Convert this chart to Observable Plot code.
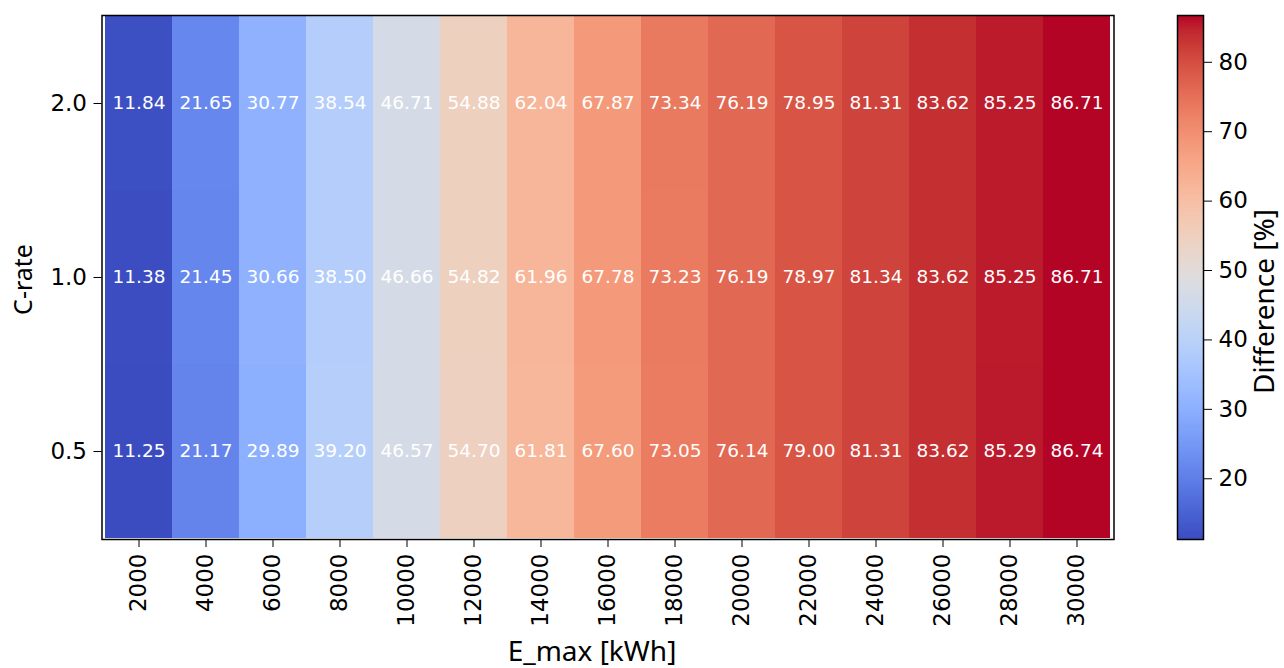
<!DOCTYPE html>
<html>
<head>
<meta charset="utf-8">
<script src="https://cdn.jsdelivr.net/npm/d3@7"></script>
<script src="https://cdn.jsdelivr.net/npm/@observablehq/plot@0.6"></script>
<style>
  html, body { margin: 0; padding: 0; background: #fff; }
  #wrap { position: relative; width: 1284px; height: 668px; overflow: hidden; }
  #cb { position: absolute; left: 1150px; top: 0; }
  #main { position: absolute; left: 0; top: 0; }
</style>
</head>
<body>
<div id="wrap"><div id="main"></div><div id="cb"></div></div>
<script>
// ---- data ----
const emax = [2000, 4000, 6000, 8000, 10000, 12000, 14000, 16000, 18000, 20000, 22000, 24000, 26000, 28000, 30000];
const cRates = ["2.0", "1.0", "0.5"];
const diff_c20 = [11.84, 21.65, 30.77, 38.54, 46.71, 54.88, 62.04, 67.87, 73.34, 76.19, 78.95, 81.31, 83.62, 85.25, 86.71];
const diff_c10 = [11.38, 21.45, 30.66, 38.50, 46.66, 54.82, 61.96, 67.78, 73.23, 76.19, 78.97, 81.34, 83.62, 85.25, 86.71];
const diff_c05 = [11.25, 21.17, 29.89, 39.20, 46.57, 54.70, 61.81, 67.60, 73.05, 76.14, 79.00, 81.31, 83.62, 85.29, 86.74];
const colorbarTicks = [20, 30, 40, 50, 60, 70, 80];
const xLabel = "E_max [kWh]";
const yLabel = "C-rate";
const cbLabel = "Difference [%]";

// ---- build table ----
const rows = [diff_c20, diff_c10, diff_c05];
const table = cRates.flatMap((c, i) => rows[i].map((v, j) => ({emax: emax[j], c, v})));
const vmin = d3.min(table, d => d.v);
const vmax = d3.max(table, d => d.v);

// matplotlib coolwarm
const coolwarmStops = [
  [59,76,192],[68,90,204],[77,104,215],[87,117,225],[98,130,234],[108,142,241],[119,154,247],[130,165,251],
  [141,176,254],[152,185,255],[163,194,255],[174,201,253],[184,208,249],[194,213,244],[204,217,238],[213,219,230],
  [221,221,221],[229,216,209],[236,211,197],[241,204,184],[245,196,173],[247,187,160],[247,177,148],[247,166,135],
  [244,154,123],[241,141,111],[236,127,99],[229,112,88],[222,96,77],[213,80,66],[203,62,56],[192,40,47],[180,4,38]
].map(([r,g,b]) => d3.rgb(r,g,b).formatHex());
const coolwarm = d3.piecewise(d3.interpolateRgb, coolwarmStops);
const colorScale = {type: "linear", domain: [vmin, vmax], interpolate: t => coolwarm(Math.max(0, Math.min(1, t)))};

const tickFont = "'DejaVu Sans', sans-serif";
const labelFont = "'Noto Sans', 'DejaVu Sans', sans-serif";

const main = Plot.plot({
  width: 1150,
  height: 668,
  marginLeft: 101.5,
  marginRight: 36.5,
  marginTop: 15,
  marginBottom: 129,
  style: {fontFamily: tickFont, fontSize: "23px", color: "#000", background: "white"},
  x: {type: "band", domain: emax, padding: 0, label: null},
  y: {type: "band", domain: cRates, padding: 0, label: null},
  color: colorScale,
  marks: [
    Plot.cell(table, {x: "emax", y: "c", fill: "v", inset: 0, shapeRendering: "crispEdges"}),
    Plot.text(table, {x: "emax", y: "c", text: d => d.v.toFixed(2), fill: "white", fontSize: 18.5, fontFamily: tickFont}),
    Plot.frame({stroke: "black", strokeWidth: 1.5}),
    Plot.axisX({tickRotate: -90, tickSize: 8, tickPadding: 6, fontSize: 23, label: null, tickFormat: d => String(d)}),
    Plot.axisY({tickSize: 8, tickPadding: 7, fontSize: 23, label: null}),
    Plot.text([xLabel], {frameAnchor: "bottom", textAnchor: "middle", lineAnchor: "bottom", text: d => d, dy: 121, dx: -16, fontSize: 28, fontFamily: labelFont, fill: "#000"}),
    Plot.text([yLabel], {frameAnchor: "left", textAnchor: "middle", lineAnchor: "middle", text: d => d, rotate: -90, dx: -78, dy: 2, fontSize: 25, fontFamily: labelFont, fill: "#000"})
  ]
});
document.getElementById("main").appendChild(main);

// colorbar
const rampN = 256;
const rampSteps = d3.range(rampN).map(i => ({
  y1: vmin + (vmax - vmin) * i / rampN,
  y2: vmin + (vmax - vmin) * (i + 1.02) / rampN,
  mid: vmin + (vmax - vmin) * (i + 0.5) / rampN
}));
const cb = Plot.plot({
  width: 134,
  height: 668,
  marginLeft: 27,
  marginRight: 81,
  marginTop: 15,
  marginBottom: 129,
  style: {fontFamily: tickFont, fontSize: "23px", color: "#000", background: "transparent"},
  x: {domain: [0, 1], axis: null},
  y: {domain: [vmin, vmax], label: null, axis: null},
  color: colorScale,
  marks: [
    Plot.rect(rampSteps, {x1: 0, x2: 1, y1: "y1", y2: "y2", fill: "mid", shapeRendering: "crispEdges"}),
    Plot.frame({stroke: "black", strokeWidth: 1.5}),
    Plot.axisY({anchor: "right", ticks: colorbarTicks, tickSize: 8, tickPadding: 7, fontSize: 23, label: null}),
    Plot.text([cbLabel], {frameAnchor: "right", textAnchor: "middle", lineAnchor: "middle", text: d => d, rotate: -90, dx: 62, dy: 24, fontSize: 28, fontFamily: labelFont, fill: "#000"})
  ]
});
document.getElementById("cb").appendChild(cb);
</script>
</body>
</html>
